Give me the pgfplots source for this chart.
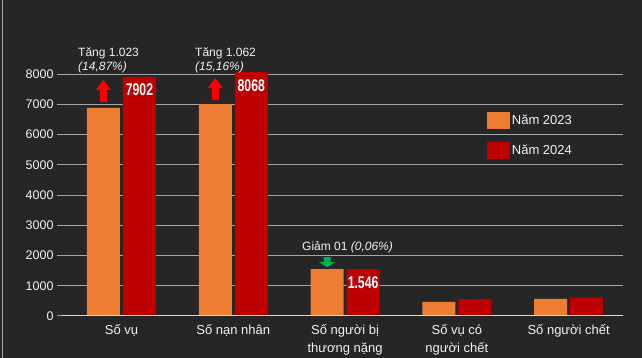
\documentclass[border=0pt]{standalone}
\usepackage{pgfplots}
\pgfplotsset{compat=1.18}
\usepackage{fontspec}
\setmainfont{Liberation Sans}
\newfontfamily\narrowfont[FakeStretch=0.72]{Liberation Sans}
\usetikzlibrary{calc}
\definecolor{bg}{HTML}{262626}
\definecolor{c23}{HTML}{ED7D31}
\definecolor{c24}{HTML}{C00000}
\definecolor{gridc}{HTML}{A6A6A6}
\definecolor{axc}{HTML}{D9D9D9}
\definecolor{txt}{HTML}{F2F2F2}
\definecolor{upred}{HTML}{FF0000}
\definecolor{downgreen}{HTML}{00B050}
\begin{document}
\begin{tikzpicture}[x=1pt,y=1pt]
\fill[bg] (0,0) rectangle (642,358);
\draw[gridc, line width=1pt] (2.5,0) -- (2.5,358);
\begin{axis}[
  at={(62pt,42pt)}, anchor=south west,
  scale only axis, width=561pt, height=242pt,
  xmin=-0.532, xmax=4.486, ymin=0, ymax=8000,
  ybar=3pt, bar width=33pt,
  clip=false,
  axis line style={draw=none},
  ytick={0,1000,...,8000},
  ytick pos=left, xtick pos=bottom,
  tick align=outside, major tick length=5pt,
  ytick style={draw=gridc, line width=1pt},
  xtick style={draw=none},
  ymajorgrids, grid style={gridc, line width=1pt},
  scaled y ticks=false,
  /pgf/number format/assume math mode=true,
  /pgf/number format/set thousands separator={},
  yticklabel style={text=txt, font=\fontsize{12.5}{14}\selectfont},
  xtick={0,1,2,3,4},
  xticklabels={Số vụ, Số nạn nhân, {Số người bị\\thương nặng}, {Số vụ có\\người chết}, Số người chết},
  xticklabel style={align=center, text=txt, font=\fontsize{13}{17.5}\selectfont},
  legend style={draw=none, fill=none, at={(0.757,0.843)}, anchor=north west,
    text=txt, font=\fontsize{13}{15}\selectfont, row sep=13pt, inner sep=0pt,
    /tikz/every even column/.append style={column sep=5pt}},
  legend image code/.code={\fill[#1] (0pt,-8.5pt) rectangle (23pt,8.5pt);},
  legend cell align=left,
]
\addplot[fill=c23, draw=none] coordinates {(0,6879) (1,7006) (2,1547) (3,470) (4,570)};
\addlegendentry{Năm 2023}
\addplot[fill=c24, draw=none] coordinates {(0,7902) (1,8068) (2,1546) (3,560) (4,605)};
\addlegendentry{Năm 2024}
\draw[axc, line width=1pt] (rel axis cs:0,0) -- (rel axis cs:1,0);
% value labels
\node[anchor=north, inner sep=0pt, text=white, font=\narrowfont\bfseries\fontsize{17}{17}\selectfont] at ($(axis cs:0,7902)+(18pt,-6pt)$) {7902};
\node[anchor=north, inner sep=0pt, text=white, font=\narrowfont\bfseries\fontsize{17}{17}\selectfont] at ($(axis cs:1,8068)+(18pt,-7pt)$) {8068};
\node[anchor=north, inner sep=0pt, text=white, font=\narrowfont\bfseries\fontsize{17}{17}\selectfont] at ($(axis cs:2,1546)+(18pt,-7pt)$) {1.546};
% arrows
\fill[upred] ($(axis cs:0,6879)+(-18pt,6pt)$) ++(-3.5pt,0pt) -- ++(7pt,0pt) -- ++(0pt,12pt) -- ++(4pt,0pt) -- ++(-7.5pt,10pt) -- ++(-7.5pt,-10pt) -- ++(4pt,0pt) -- cycle;
\fill[upred] ($(axis cs:1,7006)+(-18pt,4pt)$) ++(-3.5pt,0pt) -- ++(7pt,0pt) -- ++(0pt,12pt) -- ++(4pt,0pt) -- ++(-7.5pt,10pt) -- ++(-7.5pt,-10pt) -- ++(4pt,0pt) -- cycle;
\fill[downgreen] ($(axis cs:2,1547)+(-18pt,2pt)$) -- ++(8pt,5pt) -- ++(-4.5pt,0pt) -- ++(0pt,5pt) -- ++(-7pt,0pt) -- ++(0pt,-5pt) -- ++(-4.5pt,0pt) -- cycle;
\end{axis}
\node[anchor=base west, inner sep=0pt, text=txt, font=\fontsize{12}{13}\selectfont] at (78,301) {Tăng 1.023};
\node[anchor=base west, inner sep=0pt, text=txt, font=\fontsize{12}{13}\selectfont\itshape] at (78,287) {(14,87\%)};
\node[anchor=base west, inner sep=0pt, text=txt, font=\fontsize{12}{13}\selectfont] at (195,301) {Tăng 1.062};
\node[anchor=base west, inner sep=0pt, text=txt, font=\fontsize{12}{13}\selectfont\itshape] at (195,287) {(15,16\%)};
\node[anchor=base west, inner sep=0pt, text=txt, font=\fontsize{12}{13}\selectfont] at (302,107) {Giảm 01 \textit{(0,06\%)}};
\pgfresetboundingbox
\path (0,0) rectangle (642,358);
\end{tikzpicture}
\end{document}
